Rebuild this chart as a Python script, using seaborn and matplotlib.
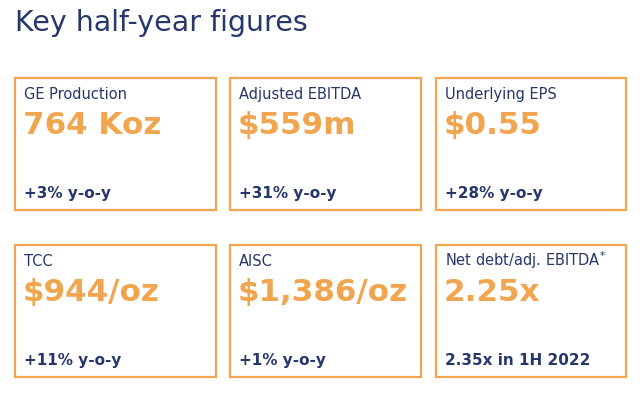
import matplotlib
matplotlib.use("Agg")
import matplotlib.pyplot as plt
import matplotlib.patches as mpatches
import seaborn as sns

# Données des cartes
labels = ["GE Production", "Adjusted EBITDA", "Underlying EPS",
          "TCC", "AISC", "Net debt/adj. EBITDA$^{*}$"]
values = ["764 Koz", "$559m", "$0.55", "$944/oz", "$1,386/oz", "2.25x"]
footers = ["+3% y-o-y", "+31% y-o-y", "+28% y-o-y",
           "+11% y-o-y", "+1% y-o-y", "2.35x in 1H 2022"]

navy = "#27366B"
orange = "#F0A54E"

sns.set_style("white")
plt.rcParams['font.family'] = ['DejaVu Sans']
plt.rcParams['mathtext.default'] = 'regular'

fig = plt.figure(figsize=(6.4, 4.06), dpi=100)
ax = fig.add_axes([0, 0, 1, 1])
ax.set_xlim(0, 640)
ax.set_ylim(406, 0)
ax.axis('off')

ax.text(15, 31, "Key half-year figures", fontsize=20.5, color=navy, va='baseline')

# Géométrie des cartes
col_x = [15, 230, 436]
col_w = [201, 191, 190]
row_y = [79, 246]
h = 132

for i in range(6):
    c, r = i % 3, i // 3
    x0, y0 = col_x[c], row_y[r]
    ax.add_patch(mpatches.Rectangle((x0, y0), col_w[c], h, fill=False,
                                    edgecolor=orange, linewidth=1.6))
    ax.text(x0 + 9, y0 + 20, labels[i], fontsize=10.5, color=navy,
            va='baseline')
    ax.text(x0 + 8, y0 + 55, values[i].replace("$", r"\$"), fontsize=22.3,
            fontweight='bold', color=orange, va='baseline')
    ax.text(x0 + 9, y0 + 119, footers[i], fontsize=11, fontweight='bold',
            color=navy, va='baseline')

fig.savefig("out.png", dpi=100)
